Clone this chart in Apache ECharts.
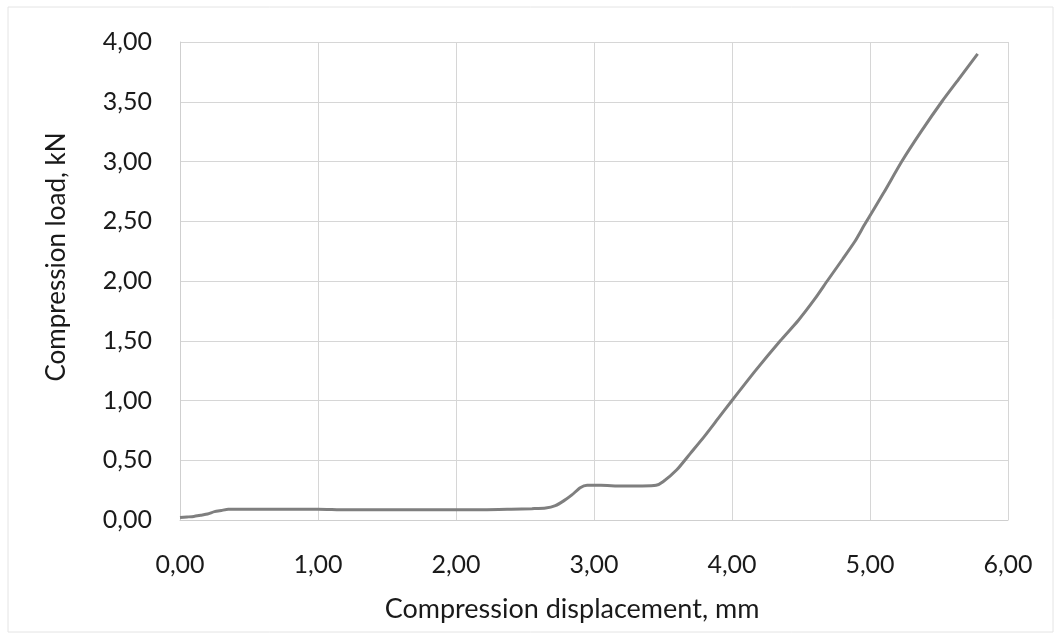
<!DOCTYPE html>
<html>
<head>
<meta charset="utf-8">
<script src="https://cdn.jsdelivr.net/npm/echarts@6/dist/echarts.min.js"></script>
<style>
  html, body { margin: 0; padding: 0; background: #fff; }
  #main { width: 1061px; height: 640px; }
</style>
</head>
<body>
<div id="main"></div>
<script>
// compression displacement, mm
var displacement = [0.00, 0.05, 0.10, 0.15, 0.20, 0.25, 0.30, 0.35, 0.40, 0.60, 0.80, 1.00, 1.20, 1.40, 1.60, 1.80, 2.00, 2.20, 2.40, 2.55, 2.65, 2.72, 2.78, 2.84, 2.90, 2.95, 3.05, 3.20, 3.35, 3.45, 3.50, 3.60, 3.70, 3.80, 3.90, 4.00, 4.17, 4.35, 4.48, 4.60, 4.69, 4.80, 4.89, 4.96, 5.10, 5.23, 5.37, 5.52, 5.65, 5.78];
// compression load, kN
var load = [0.02, 0.025, 0.03, 0.04, 0.05, 0.07, 0.08, 0.09, 0.09, 0.09, 0.09, 0.09, 0.085, 0.085, 0.085, 0.085, 0.085, 0.085, 0.09, 0.095, 0.10, 0.12, 0.16, 0.21, 0.27, 0.29, 0.29, 0.285, 0.285, 0.29, 0.32, 0.42, 0.56, 0.70, 0.85, 1.00, 1.25, 1.50, 1.67, 1.85, 2.00, 2.18, 2.33, 2.47, 2.74, 3.00, 3.25, 3.50, 3.70, 3.90];

var xTicks = [0, 1, 2, 3, 4, 5, 6];
var yTicks = [0, 0.5, 1, 1.5, 2, 2.5, 3, 3.5, 4];

function fmt(v) { return v.toFixed(2).replace('.', ','); }

var chart = echarts.init(document.getElementById('main'));

var pts = displacement.map(function (x, i) { return [x, load[i]]; });

var option = {
  backgroundColor: '#fff',
  textStyle: { fontFamily: 'Lato' },
  animation: false,
  graphic: [{
    type: 'rect',
    shape: { x: 8, y: 7, width: 1045, height: 625 },
    style: { fill: 'none', stroke: '#e4e4e4', lineWidth: 1 }
  }],
  grid: { left: 180, right: 53, top: 42, bottom: 120 },
  xAxis: {
    type: 'value',
    min: xTicks[0],
    max: xTicks[xTicks.length - 1],
    interval: 1,
    name: 'Compression displacement, mm',
    nameLocation: 'middle',
    nameGap: 76,
    nameTextStyle: { color: '#1a1a1a', fontSize: 27, padding: [0, 44, 0, 0] },
    axisLine: { show: true, lineStyle: { color: '#cfcfcf' } },
    axisTick: { show: false },
    axisLabel: { formatter: fmt, color: '#1a1a1a', fontSize: 25, margin: 32 },
    splitLine: { show: true, lineStyle: { color: '#d6d6d6', width: 1 } }
  },
  yAxis: {
    type: 'value',
    min: yTicks[0],
    max: yTicks[yTicks.length - 1],
    interval: 0.5,
    name: 'Compression load, kN',
    nameLocation: 'middle',
    nameGap: 110,
    nameTextStyle: { color: '#1a1a1a', fontSize: 26, padding: [0, 0, 0, 48] },
    axisLine: { show: true, lineStyle: { color: '#cfcfcf' } },
    axisTick: { show: false },
    axisLabel: { formatter: fmt, color: '#1a1a1a', fontSize: 25, margin: 28 },
    splitLine: { show: true, lineStyle: { color: '#d6d6d6', width: 1 } }
  },
  series: [{
    type: 'line',
    data: pts,
    showSymbol: false,
    smooth: 0.2,
    lineStyle: { color: '#7f7f7f', width: 3 }
  }]
};
chart.setOption(option);
</script>
</body>
</html>
